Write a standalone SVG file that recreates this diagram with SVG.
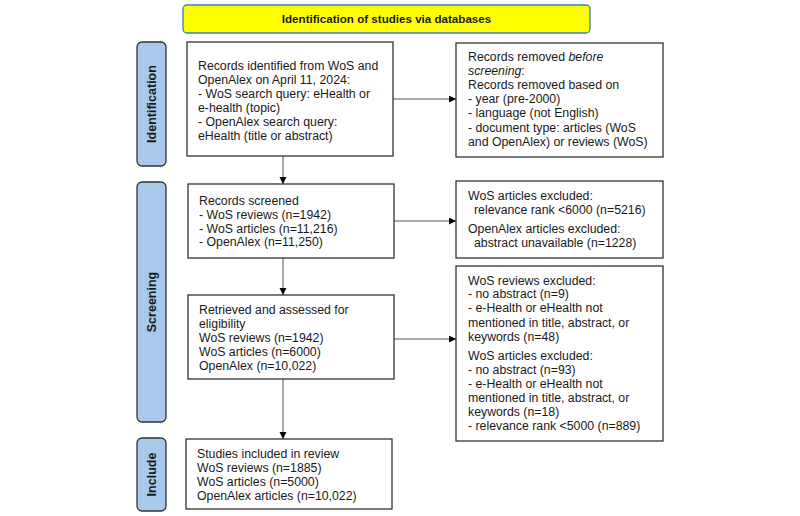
<svg xmlns="http://www.w3.org/2000/svg" width="800" height="516" viewBox="0 0 800 516">
<defs>
<style>
.box{fill:#ffffff;stroke:#333333;stroke-width:1.3}
.side{fill:#a8c9ec;stroke:#333333;stroke-width:1.3}
.t{font-family:"Liberation Sans",Arial,sans-serif;font-size:12.3px;fill:#1a1a1a}
.st{font-family:"Liberation Sans",Arial,sans-serif;font-size:12.5px;font-weight:bold;fill:#1a1a1a;text-anchor:middle}
.title{font-family:"Liberation Sans",Arial,sans-serif;font-size:11.6px;font-weight:bold;fill:#1a1a1a;text-anchor:middle}
.c{stroke:#555555;stroke-width:1;fill:none}
</style>
<marker id="ah" markerWidth="8" markerHeight="8" refX="7" refY="3.5" orient="auto" markerUnits="userSpaceOnUse">
<path d="M0,0 L7,3.5 L0,7 Z" fill="#000000"/>
</marker>
</defs>
<rect width="800" height="516" fill="#ffffff"/>

<g id="title">
<rect x="183" y="5" width="407" height="28" rx="4" fill="#ffff00" stroke="#3d7fc0" stroke-width="1.3"/>
<text class="title" x="386.5" y="23.2">Identification of studies via databases</text>
</g>

<g id="side-identification">
<rect class="side" x="137" y="42" width="29" height="124" rx="5"/>
<text class="st" transform="translate(156,104) rotate(-90)">Identification</text>
</g>
<g id="side-screening">
<rect class="side" x="137" y="182" width="29" height="240" rx="5"/>
<text class="st" transform="translate(156,302) rotate(-90)">Screening</text>
</g>
<g id="side-include">
<rect class="side" x="137" y="438" width="29" height="73" rx="5"/>
<text class="st" transform="translate(156,474.5) rotate(-90)">Include</text>
</g>

<g id="connectors">
<line class="c" x1="393" y1="99" x2="456" y2="99" marker-end="url(#ah)"/>
<line class="c" x1="394" y1="221" x2="456" y2="221" marker-end="url(#ah)"/>
<line class="c" x1="394" y1="339" x2="456" y2="339" marker-end="url(#ah)"/>
<line class="c" x1="283" y1="156" x2="283" y2="184" marker-end="url(#ah)"/>
<line class="c" x1="283" y1="258" x2="283" y2="295" marker-end="url(#ah)"/>
<line class="c" x1="283" y1="379" x2="283" y2="439" marker-end="url(#ah)"/>
</g>

<g id="records-identified">
<rect class="box" x="187" y="42" width="206" height="114"/>
<text class="t" x="198" y="69.5">Records identified from WoS and</text>
<text class="t" x="198" y="83.5">OpenAlex on April 11, 2024:</text>
<text class="t" x="198" y="97.5">- WoS search query: eHealth or</text>
<text class="t" x="198" y="111.5">e-health (topic)</text>
<text class="t" x="198" y="125.5">- OpenAlex search query:</text>
<text class="t" x="198" y="139.5">eHealth (title or abstract)</text>
</g>

<g id="records-removed">
<rect class="box" x="456" y="43" width="207" height="114"/>
<text class="t" x="468" y="60.5">Records removed <tspan font-style="italic">before</tspan></text>
<text class="t" x="468" y="74.7"><tspan font-style="italic">screening</tspan>:</text>
<text class="t" x="468" y="88.9">Records removed based on</text>
<text class="t" x="468" y="103.1">- year (pre-2000)</text>
<text class="t" x="468" y="117.3">- language (not English)</text>
<text class="t" x="468" y="131.5">- document type: articles (WoS</text>
<text class="t" x="468" y="145.7">and OpenAlex) or reviews (WoS)</text>
</g>

<g id="records-screened">
<rect class="box" x="188" y="184" width="206" height="74"/>
<text class="t" x="199" y="205">Records screened</text>
<text class="t" x="199" y="218.5">- WoS reviews (n=1942)</text>
<text class="t" x="199" y="232.5">- WoS articles (n=11,216)</text>
<text class="t" x="199" y="246">- OpenAlex (n=11,250)</text>
</g>

<g id="screen-excluded">
<rect class="box" x="456" y="181" width="207" height="77"/>
<text class="t" x="468" y="199.5">WoS articles excluded:</text>
<text class="t" x="474" y="213.5">relevance rank &lt;6000 (n=5216)</text>
<text class="t" x="468" y="232.5">OpenAlex articles excluded:</text>
<text class="t" x="474" y="246.5">abstract unavailable (n=1228)</text>
</g>

<g id="eligibility">
<rect class="box" x="188" y="295" width="206" height="84"/>
<text class="t" x="199" y="313.5">Retrieved and assessed for</text>
<text class="t" x="199" y="327.5">eligibility</text>
<text class="t" x="199" y="341.5">WoS reviews (n=1942)</text>
<text class="t" x="199" y="355.5">WoS articles (n=6000)</text>
<text class="t" x="199" y="370">OpenAlex (n=10,022)</text>
</g>

<g id="eligibility-excluded">
<rect class="box" x="456" y="266" width="207" height="175"/>
<text class="t" x="468" y="284.5">WoS reviews excluded:</text>
<text class="t" x="468" y="298.3">- no abstract (n=9)</text>
<text class="t" x="468" y="312.3">- e-Health or eHealth not</text>
<text class="t" x="468" y="326.5">mentioned in title, abstract, or</text>
<text class="t" x="468" y="340.5">keywords (n=48)</text>
<text class="t" x="468" y="359.5">WoS articles excluded:</text>
<text class="t" x="468" y="373.5">- no abstract (n=93)</text>
<text class="t" x="468" y="387.5">- e-Health or eHealth not</text>
<text class="t" x="468" y="401.5">mentioned in title, abstract, or</text>
<text class="t" x="468" y="415.5">keywords (n=18)</text>
<text class="t" x="468" y="429.5">- relevance rank &lt;5000 (n=889)</text>
</g>

<g id="included">
<rect class="box" x="186" y="439" width="206" height="70"/>
<text class="t" x="197" y="457.5">Studies included in review</text>
<text class="t" x="197" y="471.5">WoS reviews (n=1885)</text>
<text class="t" x="197" y="485.5">WoS articles (n=5000)</text>
<text class="t" x="197" y="500">OpenAlex articles (n=10,022)</text>
</g>
</svg>
